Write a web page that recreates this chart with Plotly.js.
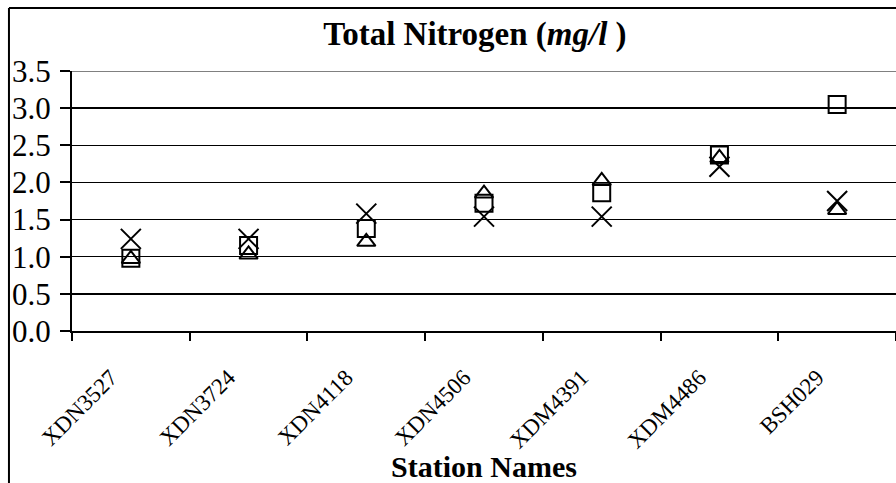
<!DOCTYPE html>
<html>
<head>
<meta charset="utf-8">
<script src="https://cdn.plot.ly/plotly-3.0.1.min.js"></script>
<style>
  html, body { margin: 0; padding: 0; background: #fff; }
  #chart { width: 896px; height: 483px; }
</style>
</head>
<body>
<div id="chart"></div>
<script>
// Data
const stations = ["XDN3527", "XDN3724", "XDN4118", "XDN4506", "XDM4391", "XDM4486", "BSH029"];
const seriesCross    = [1.24, 1.24, 1.58, 1.54, 1.54, 2.21, 1.75];
const seriesSquare   = [0.98, 1.15, 1.38, 1.72, 1.86, 2.37, 3.05];
const seriesTriangle = [0.97, 1.03, 1.20, 1.85, 2.02, 2.33, 1.63];
const yTickVals  = [0, 0.5, 1, 1.5, 2, 2.5, 3, 3.5];
const yTickText  = ["0.0", "0.5", "1.0", "1.5", "2.0", "2.5", "3.0", "3.5"];

const serif = "Liberation Serif";

function mk(name, y, symbol, size) {
  return {
    type: "scatter", mode: "markers", name: name,
    x: stations, y: y,
    marker: { symbol: symbol, size: size, color: "#000",
              line: { color: "#000", width: 2 } },
    cliponaxis: false
  };
}

const traces = [
  mk("Series 1", seriesCross, "x-thin-open", 20),
  mk("Series 2", seriesSquare, "square-open", 17),
  mk("Series 3", seriesTriangle, "triangle-up-open", 16)
];

const layout = {
  width: 896, height: 483,
  margin: { l: 72, r: 0, t: 71, b: 152 },
  paper_bgcolor: "#fff", plot_bgcolor: "#fff",
  showlegend: false,
  font: { family: serif, color: "#000" },
  title: {
    text: "<b>Total Nitrogen (<i>mg/l </i>)</b>",
    font: { family: serif, size: 33, color: "#000" },
    xref: "container", x: 0.53, xanchor: "center",
    yref: "container", y: 0.93, yanchor: "middle"
  },
  xaxis: {
    type: "category",
    range: [-0.5, stations.length - 0.5],
    tickson: "boundaries",
    ticks: "outside", ticklen: 8, tickwidth: 2, tickcolor: "#000",
    tickangle: -45,
    tickfont: { family: serif, size: 23, color: "#000" },
    ticklabelstandoff: 22, ticklabelshift: -20,
    showline: true, linecolor: "#000", linewidth: 2,
    showgrid: false, zeroline: false,
    title: { text: "<b>Station Names</b>", font: { family: serif, size: 30, color: "#000" }, standoff: 4 }
  },
  yaxis: {
    range: [0, 3.5],
    tickvals: yTickVals, ticktext: yTickText,
    ticks: "outside", ticklen: 10, tickwidth: 2, tickcolor: "#000",
    tickfont: { family: serif, size: 31, color: "#000" },
    ticklabelstandoff: 3,
    showline: true, linecolor: "#000", linewidth: 2,
    showgrid: true, gridcolor: "#000", gridwidth: 1.5,
    zeroline: false
  },
  shapes: [
    { type: "line", xref: "paper", yref: "y", x0: 0, x1: 1, y0: 3.5, y1: 3.5,
      line: { color: "#808080", width: 2 }, layer: "above" },
    { type: "line", xref: "paper", yref: "paper", x0: -0.0765, x1: 1.01, y0: 1.242, y1: 1.242,
      line: { color: "#000", width: 2 } },
    { type: "line", xref: "paper", yref: "paper", x0: -0.0765, x1: -0.0765, y0: 1.242, y1: -0.62,
      line: { color: "#000", width: 2 } }
  ]
};

Plotly.newPlot("chart", traces, layout, { staticPlot: true, displayModeBar: false });
</script>
</body>
</html>
